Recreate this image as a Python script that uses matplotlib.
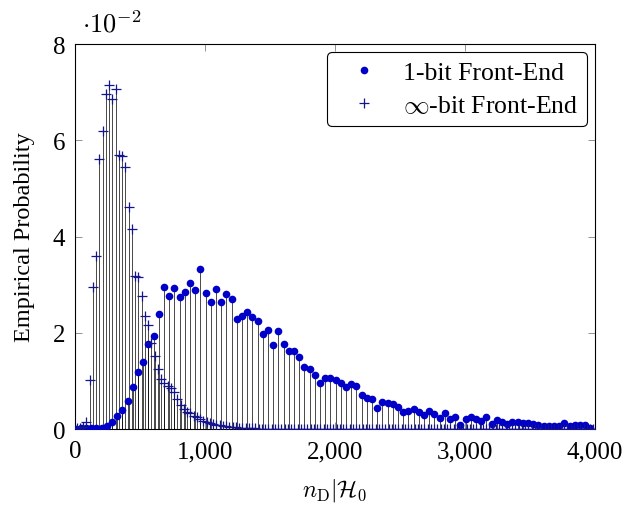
import numpy as np
import matplotlib
matplotlib.use("Agg")
import matplotlib.pyplot as plt
from matplotlib.ticker import FuncFormatter

plt.rcParams['font.family'] = ['Liberation Serif', 'DejaVu Serif']
plt.rcParams['mathtext.fontset'] = 'cm'

# 1-bit front-end, bins of 40 (values in units of 1e-2)
x_1bit = np.arange(100) * 40 + 5
p_1bit = [0.01, 0.02, 0.03, 0.02, 0.02, 0.03, 0.07, 0.15, 0.27, 0.40,
          0.58, 0.87, 1.18, 1.39, 1.76, 1.93, 2.40, 2.96, 2.76, 2.93,
          2.74, 2.85, 3.03, 2.90, 3.33, 2.83, 2.65, 2.91, 2.65, 2.81,
          2.71, 2.29, 2.35, 2.44, 2.33, 2.24, 1.98, 2.05, 1.75, 2.03,
          1.77, 1.63, 1.63, 1.50, 1.28, 1.25, 1.13, 0.95, 1.06, 1.06,
          1.03, 0.95, 0.88, 0.93, 0.89, 0.71, 0.64, 0.63, 0.43, 0.57,
          0.55, 0.52, 0.45, 0.36, 0.37, 0.42, 0.35, 0.29, 0.38, 0.31,
          0.24, 0.33, 0.22, 0.26, 0.09, 0.21, 0.26, 0.21, 0.16, 0.26,
          0.10, 0.18, 0.15, 0.10, 0.14, 0.15, 0.13, 0.13, 0.10, 0.08,
          0.07, 0.07, 0.06, 0.07, 0.12, 0.07, 0.09, 0.09, 0.09, 0.03]

# infinite-bit front-end, bins of 25 (values in units of 1e-2)
x_inf = np.arange(160) * 25 + 12.5
p_inf = [0.02, 0.03, 0.05, 0.15, 1.03, 2.96, 3.60, 5.62, 6.20, 6.96,
         7.15, 6.86, 7.07, 5.69, 5.67, 5.45, 4.62, 4.15, 3.19, 3.15,
         2.76, 2.35, 2.17, 1.79, 1.51, 1.24, 1.05, 0.95, 0.90, 0.85,
         0.78, 0.62, 0.50, 0.42, 0.36, 0.33, 0.28, 0.25, 0.22, 0.17,
         0.15, 0.13, 0.11, 0.09, 0.08, 0.07, 0.06, 0.05, 0.05, 0.04,
         0.03, 0.03, 0.02, 0.02, 0.02, 0.02, 0.01, 0.01, 0.01, 0.01,
         0.01, 0.01, 0.01, 0.01, 0.01, 0.01, 0.01, 0.01, 0.01, 0.01,
         0.01, 0.01, 0.01, 0.01, 0.01, 0.01, 0.01, 0.01, 0.01, 0.01,
         0.01, 0.01, 0.01, 0.01, 0.01, 0.01, 0.01, 0.01, 0.01, 0.01,
         0.01, 0.01, 0.01, 0.01, 0.01, 0.01, 0.01, 0.01, 0.01, 0.01,
         0.01, 0.01, 0.01, 0.01, 0.01, 0.01, 0.01, 0.01, 0.01, 0.01,
         0.01, 0.01, 0.01, 0.01, 0.01, 0.01, 0.01, 0.01, 0.01, 0.01,
         0.01, 0.01, 0.01, 0.01, 0.01, 0.01, 0.01, 0.01, 0.01, 0.01,
         0.01, 0.01, 0.01, 0.01, 0.01, 0.01, 0.01, 0.01, 0.01, 0.01,
         0.01, 0.01, 0.01, 0.01, 0.01, 0.01, 0.01, 0.01, 0.01, 0.01,
         0.01, 0.01, 0.01, 0.01, 0.01, 0.01, 0.01, 0.01, 0.01, 0.01]

fig = plt.figure(figsize=(6.28, 5.06), dpi=100)
ax = fig.add_axes([0.1194, 0.150, 0.828, 0.761])

# stems
ax.vlines(x_1bit, 0, p_1bit, color='black', lw=0.5, zorder=2)
ax.vlines(x_inf, 0, p_inf, color='black', lw=0.5, zorder=2)

ax.plot(x_1bit, p_1bit, 'o', color='#0000c8', ms=5.5, mew=0,
        label='1-bit Front-End', zorder=3)
ax.plot(x_inf, p_inf, '+', color='#14148c', ms=7, mew=0.9,
        label=r'$\infty$-bit Front-End', zorder=4)

ax.set_xlim(0, 4000)
ax.set_ylim(0, 8)
ax.set_xticks([0, 1000, 2000, 3000, 4000])
ax.set_yticks([0, 2, 4, 6, 8])
ax.xaxis.set_major_formatter(FuncFormatter(lambda v, p: f"{int(v):,}"))
ax.tick_params(direction='in', length=5, width=0.6, color='0.5',
               top=True, right=True, labelsize=18)
ax.tick_params(axis='x', pad=8)
ax.tick_params(axis='y', pad=7)
for s in ax.spines.values():
    s.set_linewidth(0.8)

ax.set_xlabel(r'$n_{\mathrm{D}}|\mathcal{H}_0$', fontsize=17, labelpad=10)
ax.set_ylabel('Empirical Probability', fontsize=17.5, labelpad=13)
fig.text(0.13, 0.935, r'$\cdot10^{-2}$', fontsize=19)

leg = ax.legend(loc='upper right', fontsize=18.5, frameon=True, fancybox=True,
                edgecolor='black', handlelength=2.2, borderaxespad=0.3,
                labelspacing=0.4, handletextpad=0.4, borderpad=0.35)
leg.get_frame().set_linewidth(0.8)
leg.get_frame().set_alpha(1)

fig.savefig('out.png', dpi=100)
